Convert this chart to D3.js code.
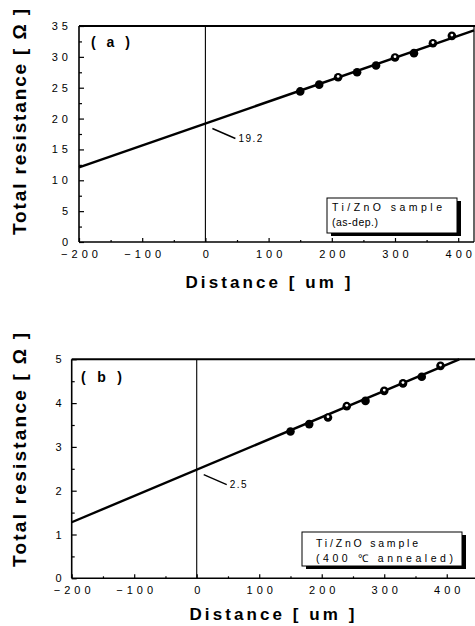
<!DOCTYPE html>
<html><head><meta charset="utf-8">
<script src="https://cdn.jsdelivr.net/npm/d3@7"></script>
<style>
body{margin:0;background:#fff;}
svg{display:block;font-family:"Liberation Sans",Arial,sans-serif;}
</style></head>
<body><svg id="c" width="475" height="626"></svg>
<script>
// ---- data ----
const distances = [150, 180, 210, 240, 270, 300, 330, 360, 390];
const resistA = [24.4, 25.5, 26.7, 27.5, 28.6, 29.9, 30.6, 32.2, 33.4];
const resistB = [3.35, 3.52, 3.67, 3.93, 4.05, 4.28, 4.45, 4.60, 4.85];
const openA = [false, false, true, false, false, true, false, true, true];
const openB = [false, false, true, true, false, true, true, false, true];
const fitA = [[-200, 12.1], [425, 34.3]];
const fitB = [[-200, 1.28], [420, 5.0]];
const interceptA = "19.2", interceptB = "2.5";
const xMajor = [-200, -100, 0, 100, 200, 300, 400];
const xMinor = [-150, -50, 50, 150, 250, 350];
const yMajorA = [0, 5, 10, 15, 20, 25, 30, 35];
const yMinorA = [2.5, 7.5, 12.5, 17.5, 22.5, 27.5, 32.5];
const yMajorB = [0, 1, 2, 3, 4, 5];
const yMinorB = [0.5, 1.5, 2.5, 3.5, 4.5];
const panelLabels = ["( a )", "( b )"];
const legendA = ["Ti/ZnO sample", "(as-dep.)"];
const legendB = ["Ti/ZnO sample", "(400 \u2103 annealed)"];
const yTitle = "Total resistance [ \u03A9 ]";
const xTitle = "Distance [ um ]";

const svg = d3.select("#c");

function panel(cfg) {
  const g = svg.append("g");
  const x = d3.scaleLinear().domain(cfg.xDom).range(cfg.xRange);
  const y = d3.scaleLinear().domain(cfg.yDom).range(cfg.yRange);
  const [x0] = cfg.xRange;
  const [yb, yt] = cfg.yRange;

  // x axis major
  const ax = g.append("g").attr("transform", `translate(0,${yb})`)
    .call(d3.axisBottom(x).tickValues(xMajor).tickSize(-4).tickPadding(8).tickFormat(d3.format("d")));
  ax.select(".domain").remove();
  ax.selectAll("text").attr("font-size", 11).attr("letter-spacing", 4).attr("dx", 2).attr("fill", "#000");
  ax.selectAll("line").attr("stroke", "#000").attr("stroke-width", 1.2);
  const axm = g.append("g").attr("transform", `translate(0,${yb})`)
    .call(d3.axisBottom(x).tickValues(xMinor).tickSize(-2).tickFormat(""));
  axm.select(".domain").remove();
  axm.selectAll("line").attr("stroke", "#000").attr("stroke-width", 1.2);

  // y axis
  const ay = g.append("g").attr("transform", `translate(${x0},0)`)
    .call(d3.axisLeft(y).tickValues(cfg.yMajor).tickSize(-5).tickPadding(cfg.yPad).tickFormat(d3.format("d")));
  ay.select(".domain").remove();
  ay.selectAll("text").attr("font-size", 11).attr("letter-spacing", cfg.yLS).attr("dx", cfg.yLS).attr("fill", "#000");
  ay.selectAll("line").attr("stroke", "#000").attr("stroke-width", 1.2);
  const aym = g.append("g").attr("transform", `translate(${x0},0)`)
    .call(d3.axisLeft(y).tickValues(cfg.yMinor).tickSize(-3).tickFormat(""));
  aym.select(".domain").remove();
  aym.selectAll("line").attr("stroke", "#000").attr("stroke-width", 1.2);

  // frame lines
  g.append("line").attr("x1", x0).attr("x2", x0).attr("y1", yt).attr("y2", yb)
    .attr("stroke", "#000").attr("stroke-width", 1.6);
  g.append("line").attr("x1", x0).attr("x2", cfg.frameRight).attr("y1", yb).attr("y2", yb)
    .attr("stroke", "#000").attr("stroke-width", 1.6);
  g.append("line").attr("x1", x0).attr("x2", 475).attr("y1", yt).attr("y2", yt)
    .attr("stroke", "#000").attr("stroke-width", 2);
  if (cfg.rightEdge) {
    g.append("line").attr("x1", cfg.frameRight).attr("x2", cfg.frameRight).attr("y1", yt).attr("y2", yb)
      .attr("stroke", "#000").attr("stroke-width", 1.2);
  }

  // vertical line at x = 0
  g.append("line").attr("x1", x(0)).attr("x2", x(0)).attr("y1", yt).attr("y2", yb)
    .attr("stroke", "#000").attr("stroke-width", 1.1);

  // fit line
  g.append("path").datum(cfg.fit)
    .attr("d", d3.line().x(d => x(d[0])).y(d => y(d[1])))
    .attr("fill", "none").attr("stroke", "#000").attr("stroke-width", 2.4);

  // data points
  const pts = distances.map((d, i) => ({x: d, y: cfg.vals[i], open: cfg.open[i]}));
  g.selectAll("circle.pt").data(pts).join("circle").attr("class", "pt")
    .attr("cx", d => x(d.x)).attr("cy", d => y(d.y)).attr("r", 4.3)
    .attr("fill", "#000");
  g.selectAll("circle.hole").data(pts.filter(d => d.open)).join("circle").attr("class", "hole")
    .attr("cx", d => x(d.x)).attr("cy", d => y(d.y) - 0.8).attr("r", 1.4)
    .attr("fill", "#fff");

  // intercept annotation
  const ix = x(0), iy = y(cfg.fit[0][1] + (cfg.fit[1][1] - cfg.fit[0][1]) * (0 - cfg.fit[0][0]) / (cfg.fit[1][0] - cfg.fit[0][0]));
  g.append("line").attr("x1", ix + 7).attr("y1", iy + 5).attr("x2", ix + 30).attr("y2", iy + 15)
    .attr("stroke", "#000").attr("stroke-width", 1.4);
  g.append("text").attr("x", ix + 33).attr("y", iy + cfg.annDy).text(cfg.intercept)
    .attr("font-size", 10).attr("letter-spacing", 1.5);

  // panel label
  g.append("text").attr("x", cfg.labelX).attr("y", cfg.labelY).text(cfg.label)
    .attr("font-size", 14).attr("font-weight", "bold").attr("textLength", cfg.labelW)
    .attr("lengthAdjust", "spacing");

  // legend box
  const lb = cfg.legBox;
  g.append("rect").attr("x", lb[0] + 4).attr("y", lb[1] + 3).attr("width", lb[2] - lb[0]).attr("height", lb[3] - lb[1])
    .attr("fill", "#000");
  g.append("rect").attr("x", lb[0]).attr("y", lb[1]).attr("width", lb[2] - lb[0]).attr("height", lb[3] - lb[1])
    .attr("fill", "#fff").attr("stroke", "#000").attr("stroke-width", 1);
  cfg.legend.forEach((t, i) => {
    g.append("text").attr("x", cfg.legText[i][0]).attr("y", cfg.legText[i][1]).text(t)
      .attr("font-size", 10.5).attr("textLength", cfg.legText[i][2]).attr("lengthAdjust", "spacing");
  });

  // axis titles
  g.append("text").attr("transform", `translate(${cfg.yTitleX},${cfg.yTitleY}) rotate(-90)`)
    .attr("text-anchor", "middle").text(yTitle)
    .attr("font-size", 19).attr("font-weight", "bold").attr("textLength", cfg.yTitleLen).attr("lengthAdjust", "spacing");
  g.append("text").attr("x", cfg.xTitleX).attr("y", cfg.xTitleY)
    .attr("text-anchor", "middle").text(xTitle)
    .attr("font-size", 17).attr("font-weight", "bold").attr("textLength", cfg.xTitleLen).attr("lengthAdjust", "spacing");
}

panel({
  xDom: [-200, 425], xRange: [79, 474], frameRight: 474, rightEdge: true,
  yDom: [0, 35], yRange: [242, 26],
  yMajor: yMajorA, yMinor: yMinorA, yPad: 11, yLS: 4,
  fit: fitA, vals: resistA, open: openA, intercept: interceptA, annDy: 19,
  label: panelLabels[0], labelX: 91, labelY: 47, labelW: 39,
  legBox: [327, 198, 457, 233], legend: legendA,
  legText: [[332, 211, 110], [332, 226, 46]],
  yTitleX: 26, yTitleY: 122, yTitleLen: 226,
  xTitleX: 268, xTitleY: 288, xTitleLen: 165
});

panel({
  xDom: [-200, 430], xRange: [71.7, 465.5], frameRight: 475, rightEdge: false,
  yDom: [0, 5], yRange: [578.3, 359.3],
  yMajor: yMajorB, yMinor: yMinorB, yPad: 10, yLS: 0,
  fit: fitB, vals: resistB, open: openB, intercept: interceptB, annDy: 18,
  label: panelLabels[1], labelX: 81, labelY: 382, labelW: 41,
  legBox: [302, 532, 462, 566], legend: legendB,
  legText: [[316, 547, 102], [316, 562, 137]],
  yTitleX: 26, yTitleY: 450, yTitleLen: 234,
  xTitleX: 272, xTitleY: 620, xTitleLen: 165
});
</script>
</body></html>
